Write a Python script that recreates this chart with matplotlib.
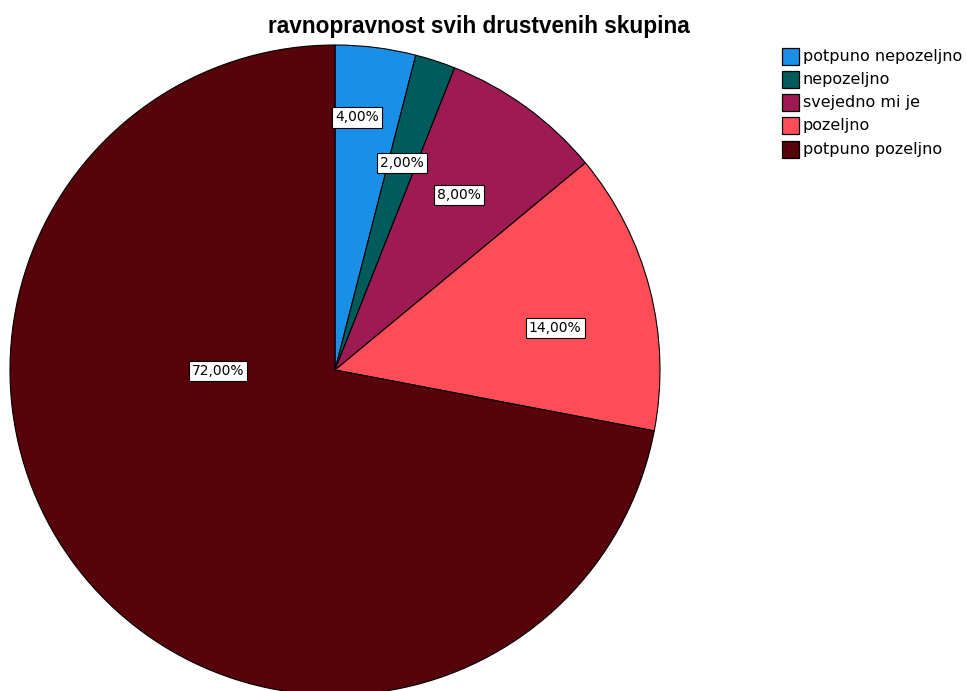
import numpy as np
import matplotlib
matplotlib.use("Agg")
import matplotlib.pyplot as plt
from matplotlib.patches import Rectangle

# Podaci
kategorije = ["potpuno nepozeljno", "nepozeljno", "svejedno mi je", "pozeljno", "potpuno pozeljno"]
postoci = [4.0, 2.0, 8.0, 14.0, 72.0]
boje = ["#1A8FE8", "#005C5C", "#9E1A52", "#FF4D57", "#56030A"]

# polozaj oznaka (udio radijusa, kut u stupnjevima)
polozaj_oznaka = [(0.78, 85.0), (0.67, 72.0), (0.66, 54.6), (0.69, 10.9), (0.36, 180.5)]

W, H = 966, 691
fig = plt.figure(figsize=(W / 100, H / 100), dpi=100)
ax = fig.add_axes([10 / W, -4 / H, 650 / W, 650 / H])

wedges, _ = ax.pie(postoci, colors=boje, startangle=90, counterclock=False,
                   radius=1.0, wedgeprops=dict(edgecolor="black", linewidth=0.8))
ax.set_xlim(-1, 1)
ax.set_ylim(-1, 1)
ax.set_aspect("equal")
ax.axis("off")

for p, (r, kut) in zip(postoci, polozaj_oznaka):
    x = r * np.cos(np.radians(kut))
    y = r * np.sin(np.radians(kut))
    ax.text(x, y, f"{p:.2f}%".replace(".", ","), ha="center", va="center",
            fontsize=10, family="DejaVu Sans",
            bbox=dict(boxstyle="square,pad=0.22", fc="white", ec="black", lw=0.8))

fig.text(479 / W, 1 - 27 / H, "ravnopravnost svih drustvenih skupina",
         ha="center", va="center", fontsize=16.3, fontweight="bold", family="Liberation Sans")

# legenda
for i, (ime, c) in enumerate(zip(kategorije, boje)):
    yc = 56 + i * 23.3
    fig.add_artist(Rectangle((782 / W, 1 - (yc + 8.5) / H), 17 / W, 17 / H,
                             transform=fig.transFigure, facecolor=c,
                             edgecolor="black", linewidth=0.9))
    fig.text(803 / W, 1 - yc / H, ime, ha="left", va="center",
             fontsize=11.5, family="DejaVu Sans")

fig.savefig("out.png", dpi=100)
